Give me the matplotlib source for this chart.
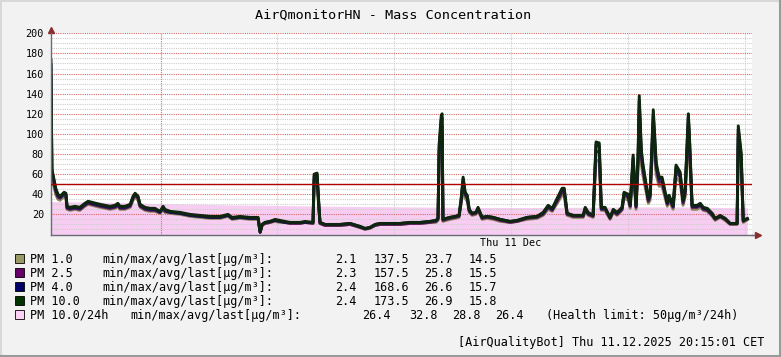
import matplotlib.pyplot as plt
from matplotlib.patches import Rectangle
from matplotlib.lines import Line2D

plt.rcParams['font.family'] = 'DejaVu Sans Mono'

# --- data (hours since 20:15 Wed 10 Dec) ---
START_HOUR = 20.25
HEALTH_LIMIT = 50

times = [
    0.00, 0.03, 0.10, 0.17, 0.24, 0.31, 0.38, 0.45, 0.51, 0.55,
    0.65, 0.82, 0.99, 1.16, 1.27, 1.40, 1.54, 1.68, 1.85, 2.02,
    2.19, 2.29, 2.36, 2.53, 2.71, 2.81, 2.88, 2.98, 3.05, 3.22,
    3.39, 3.56, 3.73, 3.84, 3.90, 4.08, 4.42, 4.76, 5.10, 5.45,
    5.79, 6.06, 6.20, 6.47, 6.82, 7.09, 7.16, 7.23, 7.33, 7.50,
    7.67, 7.84, 8.01, 8.18, 8.36, 8.53, 8.70, 8.97, 9.01, 9.11,
    9.18, 9.21, 9.38, 9.55, 9.90, 10.24, 10.58, 10.75, 10.92, 11.10,
    11.27, 11.61, 11.95, 12.29, 12.64, 12.98, 13.18, 13.25, 13.29, 13.36,
    13.39, 13.42, 13.53, 13.66, 13.84, 13.97, 14.04, 14.11, 14.18, 14.25,
    14.32, 14.42, 14.55, 14.62, 14.76, 14.93, 15.14, 15.38, 15.72, 15.96,
    16.30, 16.64, 16.85, 17.02, 17.16, 17.33, 17.50, 17.57, 17.67, 17.88,
    18.22, 18.29, 18.39, 18.56, 18.66, 18.77, 18.84, 18.97, 19.14, 19.25,
    19.38, 19.55, 19.62, 19.76, 19.83, 19.93, 20.03, 20.10, 20.14, 20.21,
    20.27, 20.45, 20.51, 20.62, 20.72, 20.82, 20.92, 21.10, 21.16, 21.30,
    21.40, 21.54, 21.64, 21.71, 21.82, 21.85, 21.95, 22.12, 22.23, 22.33,
    22.47, 22.64, 22.74, 22.91, 23.08, 23.25, 23.42, 23.49, 23.53, 23.63,
    23.70, 23.84,
]

pm1 = [
    137.5, 55, 47, 39, 35, 34, 36, 37, 36, 25,
    24, 25, 24, 28, 30, 29, 28, 27, 26, 25,
    26, 28, 25, 25, 27, 34, 37, 34, 27, 24,
    23, 23, 21, 25, 22, 21, 20, 18, 17, 16,
    16, 18, 15, 16, 15, 15, 2.1, 9, 11, 12,
    13, 12, 12, 11, 11, 11, 12, 11, 48, 50,
    21, 11, 9, 9, 9, 10, 7, 5, 6, 9,
    10, 10, 10, 11, 11, 12, 12, 14, 75, 94,
    96, 13, 14, 15, 16, 17, 30, 46, 36, 33,
    22, 19, 20, 24, 15, 16, 15, 13, 12, 13,
    15, 16, 19, 25, 23, 31, 39, 39, 19, 17,
    17, 24, 19, 17, 74, 73, 24, 24, 15, 22,
    19, 24, 36, 34, 26, 64, 25, 65, 110, 70,
    58, 31, 34, 99, 59, 48, 48, 28, 33, 25,
    57, 52, 29, 37, 96, 85, 25, 25, 27, 24,
    23, 18, 14, 17, 14, 10, 10, 10, 87, 66,
    12, 14.5,
]

pm25 = [
    157.5, 60, 51, 42, 37, 36, 38, 40, 39, 26,
    25, 26, 25, 29, 31, 30, 29, 28, 27, 26,
    27, 29, 26, 26, 28, 36, 39, 36, 28, 25,
    24, 24, 22, 26, 23, 22, 21, 19, 18, 17,
    17, 19, 16, 17, 16, 16, 2.3, 9.5, 11, 12,
    14, 13, 12, 11, 11, 11, 12, 11, 54, 55,
    23, 11, 9, 9, 9, 10, 7, 5.5, 6.5, 9,
    10, 10, 10, 11, 11, 12, 13, 15, 82, 105,
    108, 14, 15, 16, 17, 18, 32, 51, 39, 36,
    23, 20, 21, 25, 16, 17, 16, 14, 12, 13,
    16, 17, 20, 27, 24, 33, 42, 42, 20, 18,
    18, 25, 20, 18, 83, 82, 25, 25, 16, 23,
    20, 25, 39, 37, 28, 71, 27, 72, 124, 77,
    63, 33, 37, 111, 65, 52, 52, 30, 36, 27,
    63, 57, 31, 40, 108, 94, 27, 27, 29, 25,
    24, 19, 15, 18, 15, 10.5, 10.5, 10.5, 97, 73,
    13, 15.5,
]

pm4 = [
    168.6, 63, 54, 44, 39, 37, 39, 41, 40, 27,
    26, 27, 26, 30, 32, 31, 30, 29, 28, 27,
    28, 30, 27, 27, 29, 37, 40, 37, 29, 26,
    25, 25, 22, 27, 24, 22, 21, 19, 18, 17,
    17, 19, 16, 17, 16, 16, 2.4, 10, 12, 13,
    14, 13, 12, 12, 12, 12, 12, 12, 58, 59,
    24, 12, 10, 10, 10, 11, 8, 6, 7, 10,
    11, 11, 11, 12, 12, 13, 14, 16, 87, 114,
    116, 15, 16, 17, 18, 19, 34, 55, 41, 38,
    24, 21, 22, 26, 17, 18, 17, 15, 13, 14,
    17, 18, 21, 28, 25, 35, 45, 45, 21, 19,
    19, 26, 21, 19, 89, 88, 26, 26, 17, 24,
    21, 26, 41, 39, 29, 76, 28, 77, 133, 81,
    67, 35, 39, 119, 69, 55, 55, 31, 38, 28,
    67, 60, 33, 43, 116, 101, 28, 28, 30, 26,
    25, 20, 16, 18, 16, 11, 11, 11, 104, 78,
    14, 15.7,
]

pm10 = [
    173.5, 65, 55, 45, 40, 38, 40, 42, 41, 28,
    27, 28, 27, 31, 33, 32, 31, 30, 29, 28,
    29, 31, 28, 28, 30, 38, 41, 38, 30, 27,
    26, 26, 23, 28, 25, 23, 22, 20, 19, 18,
    18, 20, 17, 18, 17, 17, 2.4, 10, 12, 13,
    15, 14, 13, 12, 12, 12, 13, 12, 60, 61,
    25, 12, 10, 10, 10, 11, 8, 6, 7, 10,
    11, 11, 11, 12, 12, 13, 14, 16, 90, 118,
    120, 15, 16, 17, 18, 19, 35, 57, 42, 39,
    25, 21, 22, 27, 17, 18, 17, 15, 13, 14,
    17, 18, 22, 29, 26, 36, 46, 46, 21, 19,
    19, 27, 22, 19, 92, 91, 27, 27, 17, 25,
    22, 27, 42, 40, 30, 79, 29, 80, 138, 84,
    69, 36, 40, 124, 71, 57, 57, 32, 39, 29,
    69, 62, 34, 44, 120, 104, 29, 29, 31, 27,
    26, 21, 16, 19, 16, 11, 11, 11, 108, 81,
    14, 15.8,
]

avg24_times = [0, 2, 4, 6, 8, 10, 12, 14, 16, 18, 20, 22, 23.84]
pm10_24h = [32.8, 32.0, 30.5, 29.5, 28.8, 28.0, 27.5, 27.0, 26.8, 27.0,
            27.5, 27.3, 26.4]

names = ['PM 1.0', 'PM 2.5', 'PM 4.0', 'PM 10.0', 'PM 10.0/24h']
colors = ['#999966', '#660066', '#000066', '#003300', '#f9d2f4']
line_colors = ['#8f8a5c', '#5a1a5a', '#14144a', '#0d260d']
stats = [
    [2.1, 137.5, 23.7, 14.5],
    [2.3, 157.5, 25.8, 15.5],
    [2.4, 168.6, 26.6, 15.7],
    [2.4, 173.5, 26.9, 15.8],
    [26.4, 32.8, 28.8, 26.4],
]

W, H = 781, 357


def fx(x):
    return x / W


def fy(y):
    return 1 - y / H


fig = plt.figure(figsize=(W / 100, H / 100), dpi=100)
fig.patch.set_facecolor('#f2f2f2')

ax = fig.add_axes([fx(51), fy(234.5), (752 - 51) / W, (234.5 - 33.3) / H])
ax.set_facecolor('white')

# 24h average area
ax.fill_between(avg24_times, 0, pm10_24h, color='#f7cdf2', lw=0, zorder=1)

# PM lines
for vals, c in zip([pm1, pm25, pm4, pm10], line_colors):
    ax.plot(times, vals, color=c, lw=2.1, zorder=2)

ax.axhline(HEALTH_LIMIT, color='#b00000', lw=1.0, zorder=3)

ax.set_xlim(0, 24)
ax.set_ylim(0, 200)

midnight = 24 - START_HOUR
ax.set_xticks([midnight])
ax.set_xticklabels([''])
minor_x = [midnight + 4 * k for k in range(1, 6)]
ax.set_xticks(minor_x, minor=True)
ax.set_xticklabels(['', '', 'Thu 11 Dec', '', ''], minor=True)

ax.set_yticks(range(20, 201, 20))
ax.set_yticks(range(0, 201, 5), minor=True)

ax.set_axisbelow('line')
ax.grid(which='minor', color='#cdcdcd', linestyle=(0, (1, 1)), lw=0.8)
ax.grid(which='major', color='#d46a6a', linestyle=(0, (1, 1)), lw=0.8)

ax.tick_params(which='both', length=0, labelsize=7.3, colors='black')
ax.tick_params(axis='y', pad=5)
ax.tick_params(axis='x', which='both', pad=2.5)

for s in ['top', 'right']:
    ax.spines[s].set_visible(False)
for s in ['left', 'bottom']:
    ax.spines[s].set_color('#6b6b78')
    ax.spines[s].set_linewidth(1.0)

# axis arrows
ax.plot([1.0, 1.008], [0, 0], transform=ax.transAxes, color='#6b6b78',
        lw=1.0, clip_on=False)
ax.plot([1.009], [0], transform=ax.transAxes, marker='>', ms=4,
        color='#8b2e2e', clip_on=False)
ax.plot([0], [1.015], transform=ax.transAxes, marker='^', ms=4,
        color='#8b2e2e', clip_on=False)

# title
fig.text(fx(393), fy(19), 'AirQmonitorHN - Mass Concentration',
         ha='center', va='baseline', fontsize=9.7)

# legend
rows = [263, 277, 291, 305, 319]
for i, (name, c, st) in enumerate(zip(names, colors, stats)):
    yb = rows[i]
    fig.add_artist(Rectangle((fx(15.5), fy(yb - 0.5)), 8 / W, 8.5 / H,
                             transform=fig.transFigure, facecolor=c,
                             edgecolor='black', lw=0.6))
    fig.text(fx(30), fy(yb), name, ha='left', va='baseline', fontsize=8.5)
    lx = 102 if i < 4 else 130
    fig.text(fx(lx), fy(yb), 'min/max/avg/last[µg/m³]:', ha='left',
             va='baseline', fontsize=8.5)
    cols = [357, 409, 453, 497] if i < 4 else [391, 438, 481, 524]
    for cx, v in zip(cols, st):
        fig.text(fx(cx), fy(yb), f'{v:.1f}', ha='right', va='baseline',
                 fontsize=8.5)
fig.text(fx(546), fy(rows[4]), '(Health limit: 50µg/m³/24h)', ha='left',
         va='baseline', fontsize=8.5)

fig.text(fx(764), fy(346), '[AirQualityBot] Thu 11.12.2025 20:15:01 CET',
         ha='right', va='baseline', fontsize=8.5)

# 3d border
fig.add_artist(Line2D([0, 1], [fy(0.7), fy(0.7)], transform=fig.transFigure,
                      color='#d8d8d8', lw=1.4))
fig.add_artist(Line2D([fx(0.7), fx(0.7)], [0, 1], transform=fig.transFigure,
                      color='#d8d8d8', lw=1.4))
fig.add_artist(Line2D([fx(W - 1.5), fx(W - 1.5)], [0, 1],
                      transform=fig.transFigure, color='#9a9a9a', lw=2.2))
fig.add_artist(Line2D([0, 1], [fy(H - 1.5), fy(H - 1.5)],
                      transform=fig.transFigure, color='#9a9a9a', lw=2.2))

fig.savefig('out.png', dpi=100, facecolor=fig.get_facecolor())
